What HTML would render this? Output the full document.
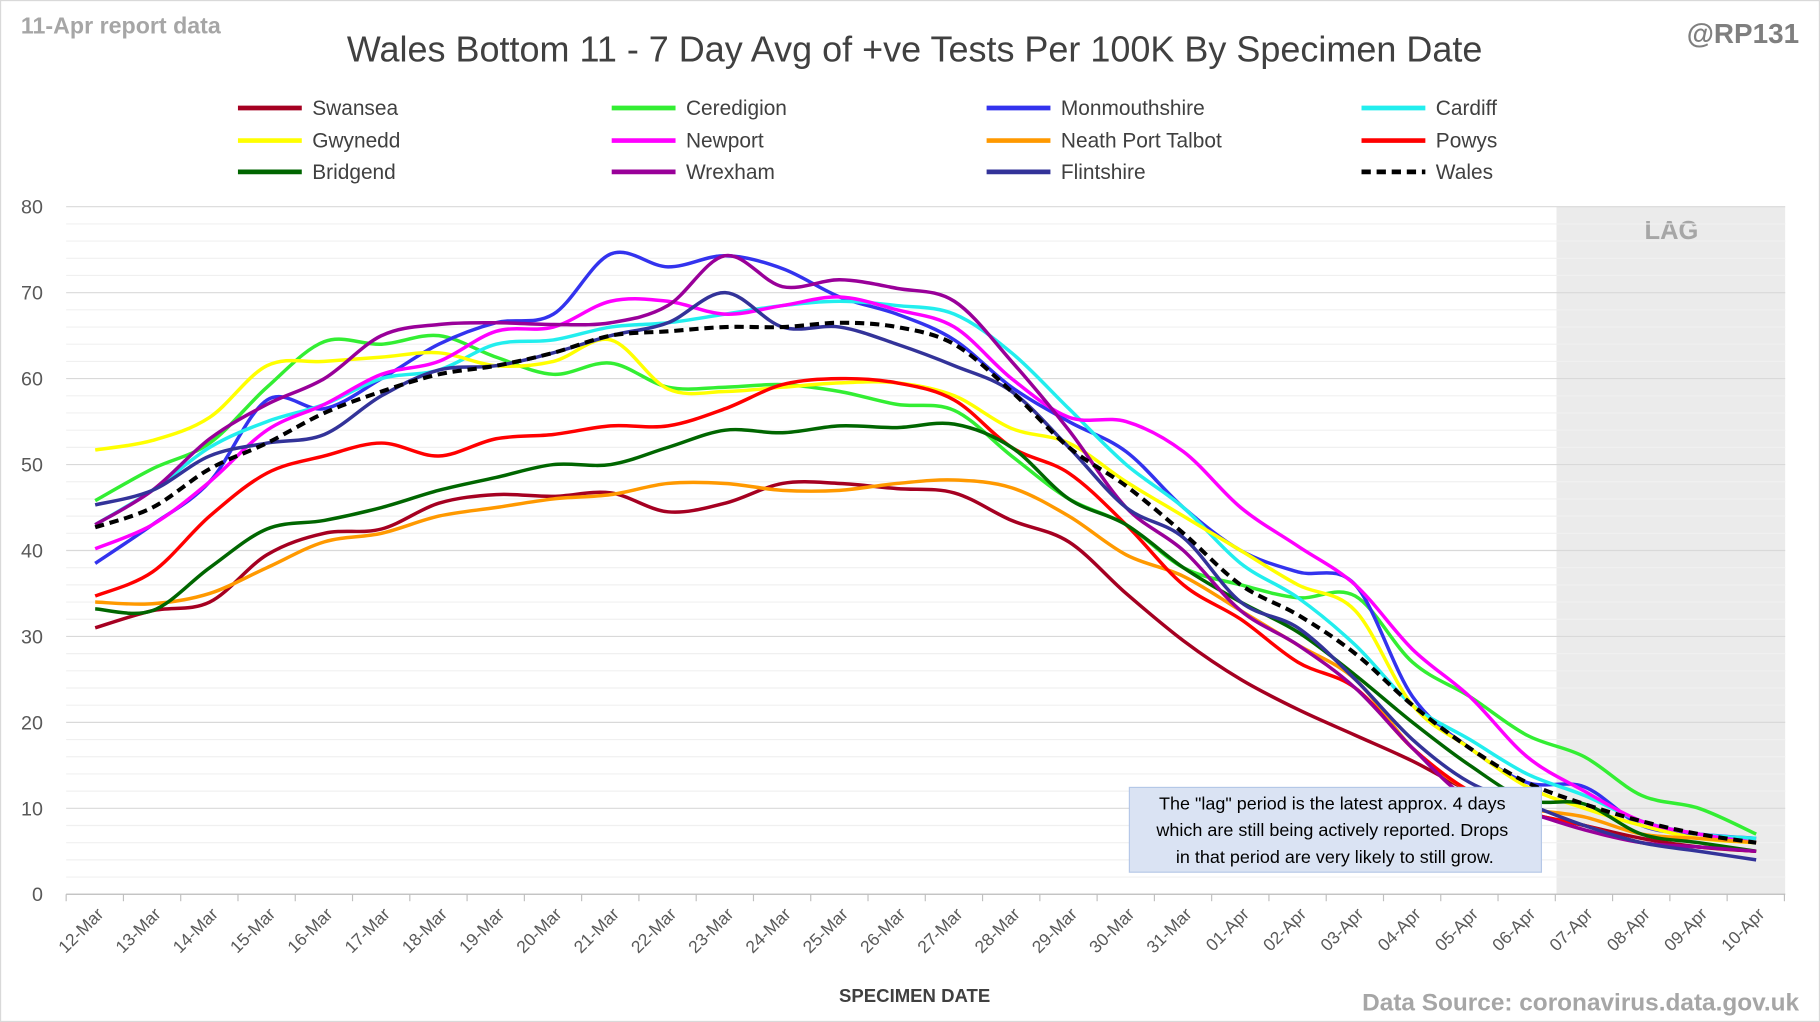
<!DOCTYPE html>
<html><head><meta charset="utf-8"><style>
html,body{margin:0;padding:0;background:#fff;}
svg{display:block;font-family:"Liberation Sans",sans-serif;}
</style></head><body>
<svg id="c" width="1820" height="1022" viewBox="0 0 1568 880" preserveAspectRatio="none" xmlns="http://www.w3.org/2000/svg">
<rect x="0.5" y="0.5" width="1567" height="879" fill="#fff" stroke="#d9d9d9"/>
<rect x="1341" y="178" width="197" height="592" fill="#ebebeb"/>
<text x="1440" y="206" font-size="22" font-weight="bold" fill="#a6a6a6" text-anchor="middle">LAG</text>
<g id="grid"></g>
<g id="series"></g>
<text x="18" y="29" font-size="20" font-weight="bold" fill="#a6a6a6">11-Apr report data</text>
<text x="788" y="53" font-size="31" fill="#404040" text-anchor="middle">Wales Bottom 11 - 7 Day Avg of +ve Tests Per 100K By Specimen Date</text>
<text x="1550" y="37" font-size="24" font-weight="bold" fill="#7f7f7f" text-anchor="end">@RP131</text>
<text x="788" y="863" font-size="16" font-weight="bold" fill="#404040" text-anchor="middle">SPECIMEN DATE</text>
<text x="1550" y="870" font-size="21" font-weight="bold" fill="#a6a6a6" text-anchor="end">Data Source: coronavirus.data.gov.uk</text>
<g id="legend"></g>
<rect x="973" y="678" width="355" height="73" fill="#dae3f3" stroke="#b4c7e7"/>
<text font-size="15.5" fill="#000" text-anchor="middle">
<tspan x="1150" y="697">The "lag" period is the latest approx. 4 days</tspan>
<tspan x="1150" y="720">which are still being actively reported.  Drops</tspan>
<tspan x="1150" y="743">in that period are very likely to still grow.</tspan>
</text>
</svg>
<script>
const NS="http://www.w3.org/2000/svg";
const X0=82,DX=(1513-82)/29,Y0=770,YS=7.4;
function el(t,a,p){const e=document.createElementNS(NS,t);for(const k in a)e.setAttribute(k,a[k]);p.appendChild(e);return e;}
const g=document.getElementById('grid');
for(let v=0;v<=80;v+=2){const y=Y0-v*YS;el('line',{x1:57,x2:1538,y1:y,y2:y,stroke:v%10==0?'#d9d9d9':'#f0f0f0','stroke-width':1},g);
 if(v%10==0){const t=el('text',{x:37,y:y+6,'font-size':17,fill:'#595959','text-anchor':'end'},g);t.textContent=v;}}
el('line',{x1:57,x2:1538,y1:Y0,y2:Y0,stroke:'#bfbfbf'},g);
for(let i=0;i<=30;i++){const x=57+i*DX;el('line',{x1:x,x2:x,y1:Y0,y2:Y0+6,stroke:'#bfbfbf'},g);}
const days=[];for(let d=12;d<=31;d++)days.push(d+'-Mar');for(let d=1;d<=10;d++)days.push((d<10?'0':'')+d+'-Apr');
days.forEach((d,i)=>{const x=X0+i*DX+8,y=Y0+18;const t=el('text',{x:x,y:y,'font-size':15,fill:'#595959','text-anchor':'end',transform:`rotate(-45 ${x} ${y})`},g);t.textContent=d;});
const S=[
["Swansea","#a50021",[31,33,34,39.5,42,42.5,45.5,46.5,46.3,46.7,44.5,45.5,47.8,47.8,47.2,46.7,43.5,41,35,29.5,25,21.5,18.5,15.5,12,9.5,8,6.5,5.5,5]],
["Ceredigion","#33ee33",[45.8,49.5,52.5,59,64.3,64,65,62.5,60.5,61.8,59,59,59.3,58.5,57,56.3,51,46,43,38,36,34.5,34.7,27,23,18.5,16,11.5,10,7]],
["Monmouthshire","#3333ee",[38.5,43,48,57.5,56.5,60,64,66.5,67.5,74.5,73,74.3,72.8,69.5,67.5,64.5,59,55,51.5,45,40,37.5,36,23,17,13,12.5,8,7,6.5]],
["Cardiff","#22eeee",[43,47,52,55,57,60,61,64,64.5,66,66.5,67.5,68.5,69,68.5,67.5,63,56.5,50,45,38.5,34.5,29,22,18,14,11.5,8.5,7,6.5]],
["Gwynedd","#ffff00",[51.7,52.8,55.5,61.5,62,62.5,63,61.5,62,64.5,58.8,58.5,59,59.5,59.5,58,54.2,52.5,48,44,40,36,33,22,17,12.5,10,8,6.5,6]],
["Newport","#ff00ff",[40.2,43,48,54,57,60.5,62,65.5,66,69,69,67.5,68.5,69.5,68,66,60,55.5,55,51.5,45,40.5,36,28.5,23,16,12,8.5,7,6]],
["Neath Port Talbot","#ff9900",[34,33.8,35,38,41,42,44,45,46,46.5,47.8,47.8,47,47,47.8,48.2,47.3,44,39.5,37,33,29,25,17,12,10,9,7,6.5,6]],
["Powys","#ff0000",[34.7,37.5,44,49,51,52.5,51,53,53.5,54.5,54.5,56.5,59.3,60,59.5,57.5,52,49,43,36,32,27,24,17,12,9.5,8,6,5.5,5]],
["Bridgend","#006600",[33.2,33,38,42.5,43.5,45,47,48.5,50,50,52,54,53.7,54.5,54.3,54.7,52,46,43,38,34,30.5,25.5,20,15,11,10.5,7,6,5]],
["Wrexham","#990099",[43,47,53,57,60,65,66.3,66.5,66.3,66.5,68.5,74.3,70.7,71.5,70.5,69,62,54,45,40,33,29,24,17,11,9.5,7.5,6,5.5,5]],
["Flintshire","#333399",[45.3,47,51,52.5,53.5,58,61,61.5,63,65,66.5,70,66,66,64,61.5,58.5,52,45,41.5,34,31,25,18,13,10.5,8,6,5,4]],
["Wales","#000",[42.7,45,49.5,52.5,56,58.5,60.5,61.5,63,65,65.5,66,66,66.5,66,64,58.5,52,47.5,42,36,32.5,28,22,17,13,10.5,8.5,7,6]]];
const sg=document.getElementById('series');
function path(v){const p=v.map((y,i)=>[X0+i*DX,Y0-y*YS]);let d=`M${p[0][0]},${p[0][1]}`;
for(let i=0;i<p.length-1;i++){const a=p[Math.max(0,i-1)],b=p[i],c=p[i+1],e=p[Math.min(p.length-1,i+2)];
d+=` C${b[0]+(c[0]-a[0])/6},${b[1]+(c[1]-a[1])/6} ${c[0]-(e[0]-b[0])/6},${c[1]-(e[1]-b[1])/6} ${c[0]},${c[1]}`;}return d;}
S.forEach(s=>{const a={d:path(s[2]),fill:'none',stroke:s[1],'stroke-width':3,'stroke-linejoin':'round'};if(s[0]=='Wales'){a['stroke-dasharray']='8,5';a['stroke-width']=3.5;}el('path',a,sg);});
const lg=document.getElementById('legend');const cx=[205,527,850,1173],ry=[93,121,148];
S.forEach((s,i)=>{const x=cx[i%4],y=ry[Math.floor(i/4)];const a={x1:x,x2:x+55,y1:y,y2:y,stroke:s[1],'stroke-width':4};if(s[0]=='Wales')a['stroke-dasharray']='8,5';el('line',a,lg);
const t=el('text',{x:x+64,y:y+6,'font-size':18,fill:'#404040'},lg);t.textContent=s[0];});
</script>
</body></html>
